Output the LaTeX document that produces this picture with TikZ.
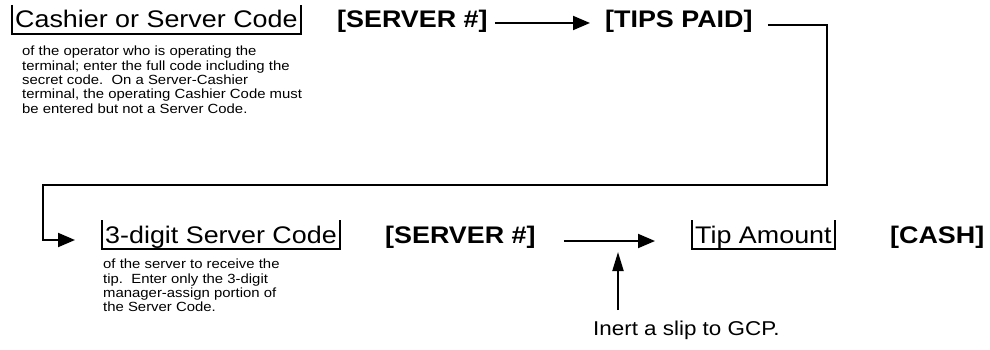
\documentclass[tikz,border=0pt]{standalone}
\usepackage{fontspec}
\setmainfont{Liberation Sans}[FakeStretch=1.12]
\usetikzlibrary{arrows.meta}
\newcommand\fieldmark[1]{%
  \draw[bar] ([shift={(-3pt,23pt)}]#1.base west) -- ([shift={(-3pt,-6pt)}]#1.base west)
    -- ([shift={(3pt,-6pt)}]#1.base east) -- ([shift={(3pt,23pt)}]#1.base east);}
\begin{document}
\begin{tikzpicture}[x=1pt,y=-1pt,
  lab/.style={font=\fontsize{24}{28}\selectfont, inner sep=0pt, anchor=base west},
  key/.style={font=\fontsize{24}{28}\selectfont\bfseries, inner sep=0pt, anchor=base west},
  desc/.style={font=\fontsize{13.3}{14.3}\selectfont, inner sep=0pt, anchor=north west, align=left},
  note/.style={font=\fontsize{20}{24}\selectfont, inner sep=0pt, anchor=base west},
  flow/.style={line width=2pt, -{Triangle[length=17pt,width=14pt]}},
  upflow/.style={line width=2pt, -{Triangle[length=19pt,width=11pt]}},
  bar/.style={line width=1.6pt},
]
\useasboundingbox (0,0) rectangle (990,350);

% row 1
\node[lab] (cash1) at (15,28) {Cashier or Server Code};
\node[key] (srv1) at (337,28) {[SERVER \#]};
\node[key] (tips1) at (605,28) {[TIPS PAID]};
\node[desc] (desc1) at (22,46) {of the operator who is operating the\\
terminal; enter the full code including the\\
secret code.\ \ On a Server-Cashier\\
terminal, the operating Cashier Code must\\
be entered but not a Server Code.};
\fieldmark{cash1}

% row 2
\node[lab] (code2) at (105,243) {3-digit Server Code};
\node[key] (srv2) at (385,243) {[SERVER \#]};
\node[lab] (tip3) at (695,243) {Tip Amount};
\node[key] (cash3) at (890,243) {[CASH]};
\node[desc] (desc2) at (103,259) {of the server to receive the\\
tip.\ \ Enter only the 3-digit\\
manager-assign portion of\\
the Server Code.};
\node[note] (note) at (593,335) {Inert a slip to GCP.};
\fieldmark{code2}
\fieldmark{tip3}

% connectors
\coordinate (r1) at (827,185);
\coordinate (l1) at (43,185);
\draw[flow] ([shift={(7pt,5pt)}]srv1.base east) -- ([shift={(-15pt,5pt)}]tips1.base west);
\draw[flow] ([shift={(15pt,3pt)}]tips1.base east) -| (r1) -- (l1) |- ([shift={(-30pt,3pt)}]code2.base west);
\draw[flow] ([shift={(28pt,2pt)}]srv2.base east) -- ([shift={(-40pt,2pt)}]tip3.base west);
\draw[upflow] ([shift={(25pt,25pt)}]note.base west) -- ([shift={(25pt,83pt)}]note.base west);
\end{tikzpicture}
\end{document}
